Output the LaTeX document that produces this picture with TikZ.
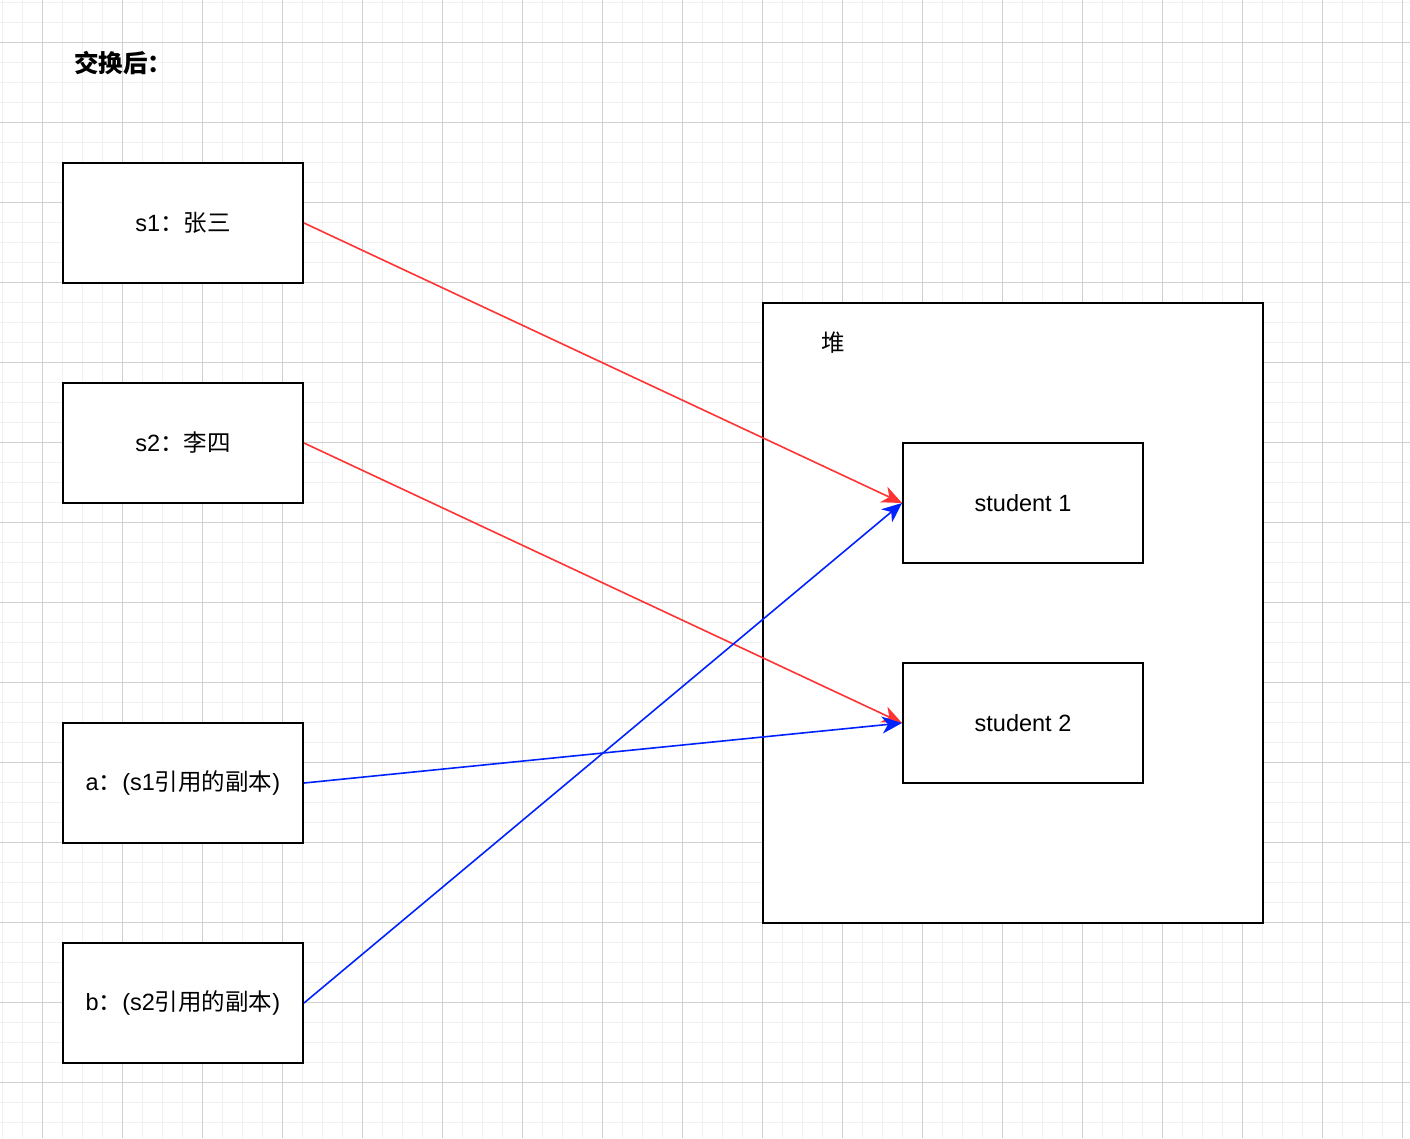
\documentclass[tikz,border=0pt]{standalone}
\usepackage{fontspec}
\setmainfont{Liberation Sans}
\newfontfamily\cjk{Noto Sans CJK SC}
\usepackage{tikz}
\usetikzlibrary{positioning,arrows.meta}
\definecolor{refred}{HTML}{FF3333}
\definecolor{refblue}{HTML}{0022FF}
\definecolor{gridminor}{HTML}{F0F0F0}
\definecolor{gridmajor}{HTML}{D0D0D0}
\newcommand{\zh}[1]{{\cjk #1}}

\begin{document}
\begin{tikzpicture}[x=1pt,y=-1pt,
  txt/.style={font=\fontsize{23.5}{27}\selectfont},
  box/.style={txt,draw,line width=2pt,fill=white,inner sep=0pt,
    minimum width=240pt,minimum height=120pt},
  ref/.style={line width=1.6pt,-{Stealth[length=20pt,width=17pt,inset=6pt]}}]

\useasboundingbox (0,0) rectangle (1410,1138);

% grid
\foreach \k in {0,...,70}
  \draw[gridminor,line width=1.5pt] (2.7+20*\k,0) -- (2.7+20*\k,1138);
\foreach \k in {0,...,56}
  \draw[gridminor,line width=1.5pt] (0,2.7+20*\k) -- (1410,2.7+20*\k);
\foreach \k in {0,...,17}
  \draw[gridmajor,line width=1pt] (42.7+80*\k,0) -- (42.7+80*\k,1138);
\foreach \k in {0,...,14}
  \draw[gridmajor,line width=1pt] (0,42.7+80*\k) -- (1410,42.7+80*\k);

\node[txt,font=\fontsize{24.5}{28}\selectfont] (title) at (123,63) {\cjk\bfseries 交换后：};

\node[box] (s1) at (183,223) {s1\zh{：张三}};
\node[box] (s2) at (183,443) {s2\zh{：李四}};
\node[box] (a) at (183,783) {a\zh{：}(s1\zh{引用的副本})};
\node[box] (b) at (183,1003) {b\zh{：}(s2\zh{引用的副本})};

\node[box,minimum width=500pt,minimum height=620pt] (heap) at (1013,613) {};
\node[txt] (heaplbl) at (833,343) {\zh{堆}};

\node[box] (st1) at (1023,503) {student 1};
\node[box] (st2) at (1023,723) {student 2};

\draw[ref,refred] (s1.east) -- (st1.west);
\draw[ref,refred] (s2.east) -- (st2.west);

\draw[ref,refblue] (a.east) -- (st2.west);
\draw[ref,refblue] (b.east) -- (st1.west);

\end{tikzpicture}
\end{document}
